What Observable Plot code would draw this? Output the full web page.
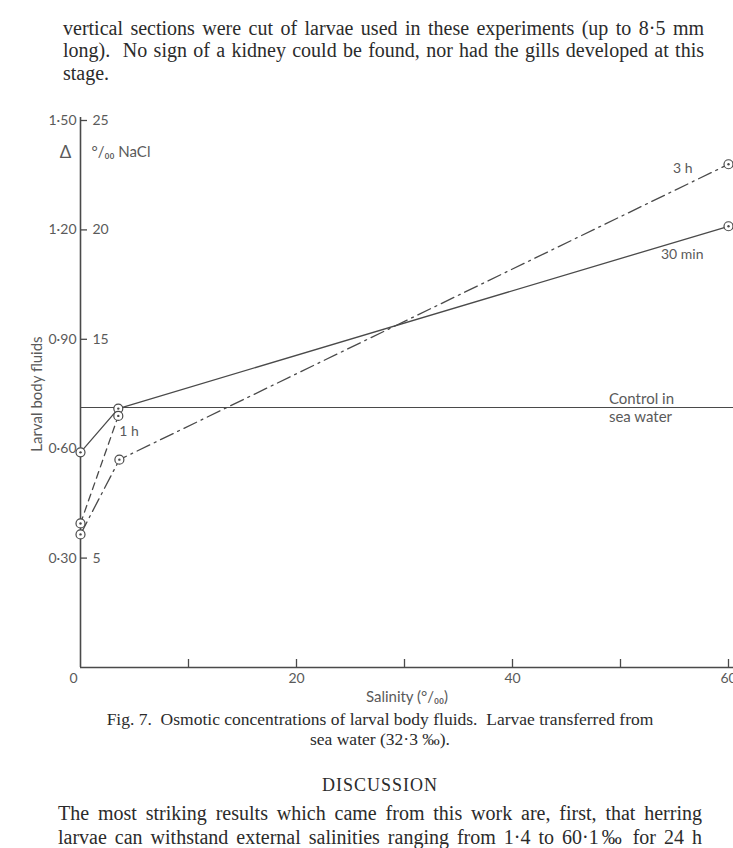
<!DOCTYPE html>
<html><head><meta charset="utf-8">
<script src="https://cdn.jsdelivr.net/npm/d3@7"></script>
<script src="https://cdn.jsdelivr.net/npm/@observablehq/plot@0.6"></script>
<style>
body{margin:0;background:#fff;width:733px;height:848px;position:relative;overflow:hidden;font-family:"Liberation Serif","DejaVu Serif",serif;color:#2b2b2b}
.tl{position:absolute;white-space:nowrap;font-size:20px;line-height:22px}
.just{text-align:justify;text-align-last:justify;white-space:normal}
.cap{position:absolute;left:0;width:760px;text-align:center;white-space:nowrap;font-size:17.5px;line-height:18px}
#chart{position:absolute;left:0;top:100px}
</style></head><body>
<div class="tl just" style="left:63px;width:641px;top:17px">vertical sections were cut of larvae used in these experiments (up to 8·5 mm</div>
<div class="tl just" style="left:63px;width:641px;top:39px">long).&nbsp; No sign of a kidney could be found, nor had the gills developed at this</div>
<div class="tl" style="left:63px;top:62px">stage.</div>
<div id="chart"></div>
<div class="cap" style="top:710px">Fig. 7.&nbsp; Osmotic concentrations of larval body fluids.&nbsp; Larvae transferred from</div>
<div class="cap" style="top:730px">sea water (32·3 ‰).</div>
<div class="cap" style="top:776px;font-size:18px;letter-spacing:1px">DISCUSSION</div>
<div class="tl just" style="left:58px;width:644px;top:802px">The most striking results which came from this work are, first, that herring</div>
<div class="tl just" style="left:58px;width:644px;top:826px">larvae can withstand external salinities ranging from 1·4 to 60·1‰ for 24 h</div>
<script>
// ---- data ----
const salinity30min = [0, 3.5, 60];
const fluid30min    = [0.59, 0.71, 1.21];
const salinity1h    = [0, 3.5];
const fluid1h       = [0.395, 0.69];
const salinity3h    = [0, 3.6, 60];
const fluid3h       = [0.365, 0.57, 1.38];
const controlSeaWater = 0.713;
const seriesNames = ["30 min", "1 h", "3 h"];
const xTicks = [10, 20, 30, 40, 50, 60];
const xTickLabels = ["20", "40", "60"];
const xTickLabelValues = [20, 40, 60];
const yTicks = [0.30, 0.60, 0.90, 1.20, 1.50];
const yTickLabels = ["0·30", "0·60", "0·90", "1·20", "1·50"];
const naclTicks = [0.30, 0.90, 1.20, 1.50];
const naclTickLabels = ["5", "15", "20", "25"];
const yTitle = "Larval body fluids";
const xTitle = "Salinity (°/₀₀)";

// ---- build tables ----
const build = (name, xs, ys) => xs.map((s, i) => ({series: name, salinity: s, fluid: ys[i]}));
const s30 = build(seriesNames[0], salinity30min, fluid30min);
const s1h = build(seriesNames[1], salinity1h, fluid1h);
const s3h = build(seriesNames[2], salinity3h, fluid3h);
const allPts = [...s30, ...s1h, ...s3h];

const ink = "#4a4a4a";
const txt = "#5a5a5a";
const W = 733, H = 610, mL = 80, mT = 20, mB = 43;
const frameW = W - mL, frameH = H - mT - mB;

const chart = Plot.plot({
  width: W, height: H,
  marginLeft: mL, marginRight: 0, marginTop: mT, marginBottom: mB,
  x: {domain: [0, 60], range: [80, 728], axis: null},
  y: {domain: [0, 1.5], axis: null},
  style: {fontFamily: "Lato, 'Open Sans', sans-serif", fontSize: "14px", color: txt, background: "transparent", overflow: "visible"},
  marks: [
    Plot.ruleY([0], {stroke: ink, strokeWidth: 1.6}),
    Plot.ruleX([0], {stroke: ink, strokeWidth: 1.6, insetTop: -3}),
    Plot.ruleY([controlSeaWater], {stroke: ink, strokeWidth: 1.2}),
    Plot.tickX(xTicks, {x: d => d, insetTop: frameH - 8, stroke: ink, strokeWidth: 1.3}),
    Plot.tickY(naclTicks, {y: d => d, insetRight: frameW - 7, stroke: ink, strokeWidth: 1.3}),
    Plot.text(yTicks, {x: 0, y: d => d, text: (d, i) => yTickLabels[i], textAnchor: "end", dx: -4, fill: txt}),
    Plot.text(naclTicks, {x: 0, y: d => d, text: (d, i) => naclTickLabels[i], textAnchor: "start", dx: 12, fill: txt}),
    Plot.text(xTickLabelValues, {x: d => d, y: 0, text: (d, i) => xTickLabels[i], dy: 11, fill: txt}),
    Plot.text(["0"], {x: 0, y: 0, text: d => d, dx: -7, dy: 11, fill: txt}),
    Plot.text([xTitle], {frameAnchor: "bottom", text: d => d, textAnchor: "middle", lineAnchor: "middle", dy: 30, fill: txt, fontSize: 15, letterSpacing: "0.8px"}),
    Plot.text([yTitle], {frameAnchor: "left", text: d => d, textAnchor: "middle", lineAnchor: "middle", rotate: -90, dx: -43, fill: txt, fontSize: 15, letterSpacing: "0.4px"}),
    Plot.text(["Δ"], {frameAnchor: "top-left", text: d => d, textAnchor: "middle", lineAnchor: "middle", dx: -15, dy: 32, fill: txt, fontSize: 17}),
    Plot.text(["°/₀₀ NaCl"], {frameAnchor: "top-left", text: d => d, textAnchor: "start", lineAnchor: "middle", dx: 11, dy: 32, fill: txt, fontSize: 15, letterSpacing: "0.5px"}),
    Plot.line(s30, {x: "salinity", y: "fluid", stroke: ink, strokeWidth: 1.3}),
    Plot.line(s1h, {x: "salinity", y: "fluid", stroke: ink, strokeWidth: 1.3, strokeDasharray: "7,5"}),
    Plot.line(s3h, {x: "salinity", y: "fluid", stroke: ink, strokeWidth: 1.3, strokeDasharray: "14,5,2,5"}),
    Plot.dot(allPts, {x: "salinity", y: "fluid", r: 4.5, stroke: ink, fill: "white", strokeWidth: 1.2}),
    Plot.dot(allPts, {x: "salinity", y: "fluid", r: 1.2, fill: ink}),
    Plot.text([s3h[s3h.length - 1]], {x: "salinity", y: "fluid", text: "series", textAnchor: "end", dx: -36, dy: 4, fill: txt, letterSpacing: "0.5px"}),
    Plot.text([s30[s30.length - 1]], {x: "salinity", y: "fluid", text: "series", textAnchor: "end", dx: -25, dy: 28, fill: txt, letterSpacing: "0.5px"}),
    Plot.text([s1h[1]], {x: "salinity", y: "fluid", text: "series", textAnchor: "start", dx: 1, dy: 16, fill: txt, letterSpacing: "0.5px"}),
    Plot.text([controlSeaWater], {y: d => d, frameAnchor: "right", text: () => "Control in", textAnchor: "middle", lineAnchor: "middle", dx: -92, dy: -8, fill: txt, fontSize: 15, letterSpacing: "0.6px"}),
    Plot.text([controlSeaWater], {y: d => d, frameAnchor: "right", text: () => "sea water", textAnchor: "middle", lineAnchor: "middle", dx: -93, dy: 10, fill: txt, fontSize: 15, letterSpacing: "0.6px"})
  ]
});
document.getElementById("chart").appendChild(chart);
</script>
</body></html>
